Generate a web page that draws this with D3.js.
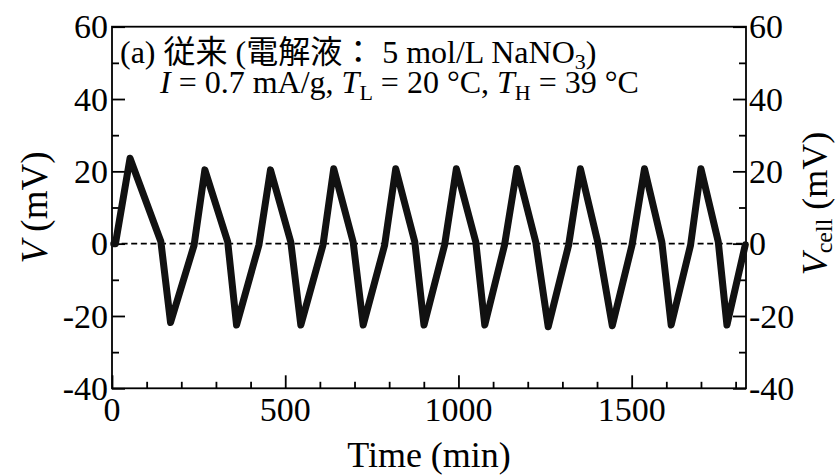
<!DOCTYPE html>
<html>
<head>
<meta charset="utf-8">
<script src="https://cdn.jsdelivr.net/npm/d3@7"></script>
<style>
  html, body { margin: 0; padding: 0; background: #fff; }
  svg { display: block; }
  text { font-family: "Liberation Serif", "Noto Sans CJK JP", serif; fill: #000; }
</style>
</head>
<body>
<svg id="chart" width="838" height="476"></svg>
<script>
// Cell voltage over repeated heating/cooling cycles
const timeMin = [5, 10, 52, 141, 169, 237, 268, 334, 359.5, 424, 457.5, 516, 545, 609, 640, 696, 725,
  787, 819, 874, 900.5, 960, 994, 1050, 1076, 1133, 1169, 1223, 1259, 1318, 1352, 1402, 1444,
  1501, 1537, 1587, 1614, 1670, 1700, 1750, 1775, 1828];
const voltage = [0, 0, 23.6, 0.6, -21.8, -0.4, 20.4, 0.5, -22.5, -0.4, 20.4, 0.5, -22.5, -0.4, 20.7, 0.5, -22.5,
  -0.4, 20.7, 0.5, -22.5, -0.4, 20.7, 0.5, -22.5, -0.4, 20.8, 0.5, -23, -0.4, 20.7, 0.5, -22.7,
  -0.4, 20.7, 0.5, -22.5, -0.4, 20.7, 0.5, -22.5, -0.3];

const xMajorTicks = [0, 500, 1000, 1500];
const xMinorTicks = [100, 200, 300, 400, 600, 700, 800, 900, 1100, 1200, 1300, 1400, 1600, 1700, 1800];
const yMajorTicks = [-40, -20, 0, 20, 40, 60];
const yMinorTicks = [-30, -10, 10, 30, 50];

const svg = d3.select("#chart");
const L = 112, R = 746, T = 26.7, B = 388.3;

const x = d3.scaleLinear().domain([0, 1830]).range([L, R]);
const y = d3.scaleLinear().domain([-40, 60]).range([B, T]);

const axisStroke = 1.8;
const fontTick = 34;

function styleAxis(g) {
  g.select(".domain").remove();
  g.selectAll(".tick line").attr("stroke", "#000").attr("stroke-width", axisStroke);
  g.selectAll(".tick text").remove();
}

// bottom axis: major and minor ticks pointing inward
svg.append("g").attr("transform", `translate(0,${B})`)
  .call(d3.axisBottom(x).tickValues(xMajorTicks).tickSize(-13).tickSizeOuter(0))
  .call(styleAxis);
svg.append("g").attr("transform", `translate(0,${B})`)
  .call(d3.axisBottom(x).tickValues(xMinorTicks).tickSize(-6.5).tickSizeOuter(0))
  .call(styleAxis);

// left axis
svg.append("g").attr("transform", `translate(${L},0)`)
  .call(d3.axisLeft(y).tickValues(yMajorTicks).tickSize(-13).tickSizeOuter(0))
  .call(styleAxis);
svg.append("g").attr("transform", `translate(${L},0)`)
  .call(d3.axisLeft(y).tickValues(yMinorTicks).tickSize(-7).tickSizeOuter(0))
  .call(styleAxis);

// right axis
svg.append("g").attr("transform", `translate(${R},0)`)
  .call(d3.axisRight(y).tickValues(yMajorTicks).tickSize(-13).tickSizeOuter(0))
  .call(styleAxis);
svg.append("g").attr("transform", `translate(${R},0)`)
  .call(d3.axisRight(y).tickValues(yMinorTicks).tickSize(-7).tickSizeOuter(0))
  .call(styleAxis);

// plot frame
svg.append("rect")
  .attr("x", L).attr("y", T).attr("width", R - L).attr("height", B - T)
  .attr("fill", "none").attr("stroke", "#000").attr("stroke-width", axisStroke);

// zero reference line
svg.append("line")
  .attr("x1", x(0)).attr("x2", R).attr("y1", y(0)).attr("y2", y(0))
  .attr("stroke", "#000").attr("stroke-width", 1.6).attr("stroke-dasharray", "6,3.6");

// tick labels
const fmt = d => String(d);
svg.append("g").selectAll("text").data(yMajorTicks).join("text")
  .attr("x", L - 4).attr("y", d => y(d)).attr("dy", "0.34em")
  .attr("text-anchor", "end").attr("font-size", fontTick).text(fmt);
svg.append("g").selectAll("text").data(yMajorTicks).join("text")
  .attr("x", R + 3).attr("y", d => y(d)).attr("dy", "0.34em")
  .attr("text-anchor", "start").attr("font-size", fontTick).text(fmt);
svg.append("g").selectAll("text").data(xMajorTicks).join("text")
  .attr("x", d => x(d)).attr("y", 421)
  .attr("text-anchor", "middle").attr("font-size", fontTick).text(fmt);

// data trace
const line = d3.line().x((d, i) => x(timeMin[i])).y(d => y(d));
svg.append("path")
  .attr("d", line(voltage))
  .attr("fill", "none").attr("stroke", "#111").attr("stroke-width", 7)
  .attr("stroke-linejoin", "round").attr("stroke-linecap", "round");

// axis titles
svg.append("text")
  .attr("x", (L + R) / 2).attr("y", 467).attr("text-anchor", "middle").attr("font-size", 36)
  .text("Time (min)");

const yl = svg.append("text")
  .attr("transform", `translate(47,${(T + B) / 2}) rotate(-90)`)
  .attr("text-anchor", "middle").attr("font-size", 37);
yl.append("tspan").attr("font-style", "italic").text("V");
yl.append("tspan").text(" (mV)");

const yr = svg.append("text")
  .attr("transform", `translate(827,${(T + B) / 2 - 4}) rotate(-90)`)
  .attr("text-anchor", "middle").attr("font-size", 36);
yr.append("tspan").attr("font-style", "italic").text("V");
yr.append("tspan").attr("font-size", 24).attr("dy", 5).text("cell");
yr.append("tspan").attr("dy", -5).text(" (mV)");

// annotation
const t1 = svg.append("text").attr("x", 120).attr("y", 63).attr("font-size", 32);
t1.append("tspan").text("(a) 従来 (電解液： 5 mol/L NaNO");
t1.append("tspan").attr("font-size", 22).attr("dy", 6).text("3");
t1.append("tspan").attr("dy", -6).text(")");

const t2 = svg.append("text").attr("x", 160).attr("y", 93).attr("font-size", 32);
t2.append("tspan").attr("font-style", "italic").text("I");
t2.append("tspan").text(" = 0.7 mA/g, ");
t2.append("tspan").attr("font-style", "italic").text("T");
t2.append("tspan").attr("font-size", 22).attr("dy", 7).text("L");
t2.append("tspan").attr("dy", -7).text(" = 20 °C, ");
t2.append("tspan").attr("font-style", "italic").text("T");
t2.append("tspan").attr("font-size", 22).attr("dy", 7).text("H");
t2.append("tspan").attr("dy", -7).text(" = 39 °C");
</script>
</body>
</html>
